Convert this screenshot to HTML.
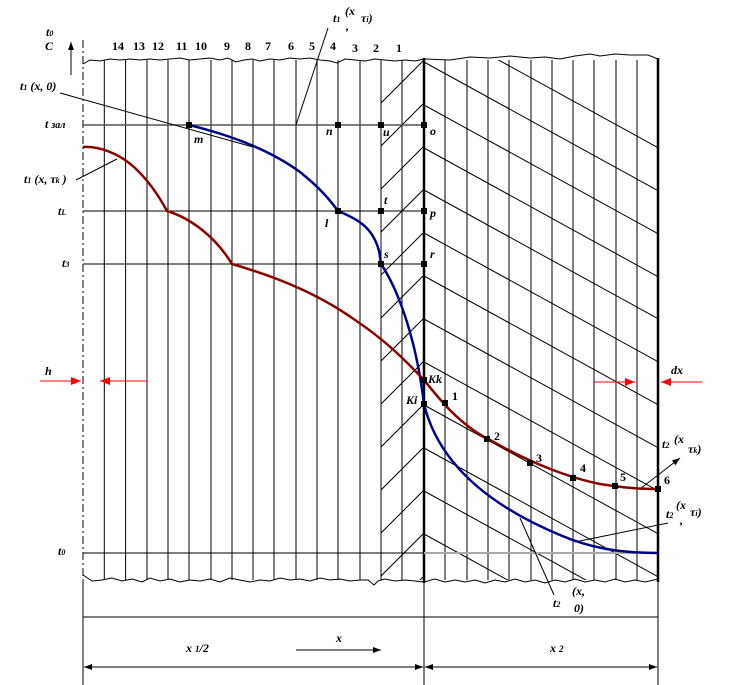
<!DOCTYPE html>
<html><head><meta charset="utf-8"><style>
body{margin:0;background:#fff}
svg{display:block}
text{font-family:"Liberation Serif",serif;font-style:italic;font-weight:bold;font-size:12px}
.n{font-style:normal}
</style></head><body>
<svg width="730" height="685" viewBox="0 0 730 685" xmlns="http://www.w3.org/2000/svg">
<defs>
<clipPath id="cl"><rect x="381" y="60" width="43" height="520"/></clipPath>
<clipPath id="cr"><rect x="424" y="60" width="234" height="520"/></clipPath>
<marker id="ar" markerWidth="8" markerHeight="6" refX="8" refY="3" orient="auto" markerUnits="userSpaceOnUse"><path d="M0,0L8,3L0,6z" fill="#000"/></marker>
<marker id="rr" markerWidth="10" markerHeight="8" refX="10" refY="4" orient="auto" markerUnits="userSpaceOnUse"><path d="M0,0L10,4L0,8z" fill="red"/></marker>
</defs>
<g stroke="#000" stroke-width="1" fill="none">
<g>
<line x1="104.3" y1="60" x2="104.3" y2="580"/><line x1="125.6" y1="60" x2="125.6" y2="580"/><line x1="147" y1="60" x2="147" y2="580"/><line x1="168" y1="60" x2="168" y2="580"/><line x1="189" y1="60" x2="189" y2="580"/><line x1="211" y1="60" x2="211" y2="580"/><line x1="232" y1="60" x2="232" y2="580"/><line x1="253" y1="60" x2="253" y2="580"/><line x1="274" y1="60" x2="274" y2="580"/><line x1="296" y1="60" x2="296" y2="580"/><line x1="317" y1="60" x2="317" y2="580"/><line x1="338" y1="60" x2="338" y2="580"/><line x1="360" y1="60" x2="360" y2="580"/><line x1="381" y1="60" x2="381" y2="580"/><line x1="402" y1="60" x2="402" y2="580"/>
<line x1="445" y1="60" x2="445" y2="580"/><line x1="467" y1="60" x2="467" y2="580"/><line x1="488" y1="60" x2="488" y2="580"/><line x1="509" y1="60" x2="509" y2="580"/><line x1="531" y1="60" x2="531" y2="580"/><line x1="552" y1="60" x2="552" y2="580"/><line x1="573" y1="60" x2="573" y2="580"/><line x1="594" y1="60" x2="594" y2="580"/><line x1="616" y1="60" x2="616" y2="580"/><line x1="637" y1="60" x2="637" y2="580"/>
</g>
<g clip-path="url(#cl)">
<path d="M381,103L424,60M381,146L424,103M381,189L424,146M381,232L424,189M381,275L424,232M381,318L424,275M381,361L424,318M381,404L424,361M381,447L424,404M381,490L424,447M381,533L424,490M381,576L424,533M381,619L424,576"/>
</g>
<g clip-path="url(#cr)">
<path d="M424,19l260,143M424,62l260,143M424,105l260,143M424,148l260,143M424,190l260,143M424,233l260,143M424,276l260,143M424,319l260,143M424,362l260,143M424,405l260,143M424,448l260,143M424,491l260,143M424,534l260,143"/>
</g>
<polyline points="83,64 90,60 100,61 110,59 120,60 130,59 140,60 150,59 160,60 170,59 180,58 190,60 200,59 210,58 220,60 228,58 236,62 244,60 252,59 260,61 270,59 280,60 290,58 300,59 310,58 320,60 330,61 337,63 345,59 355,60 365,61 375,59 385,60 395,61 405,60 415,61 424,59 450,60 470,57 490,58 510,56 530,58 545,57 560,59 575,56 590,54 600,56 615,54 630,55 648,55 658,59"/>
<polyline points="83,575 92,581 102,580 112,578 122,581 132,579 142,582 150,578 160,581 170,579 180,582 190,580 200,581 210,579 220,582 230,578 240,580 250,582 260,580 270,581 280,578 290,580 300,579 310,581 320,578 330,580 340,579 350,581 360,580 368,580 374,585 378,581 385,579 395,581 405,580 415,581 424,582 435,579 445,582 455,580 465,582 475,580 485,583 495,580 505,582 515,579 525,582 535,580 545,583 555,580 565,582 575,579 585,582 595,580 605,582 615,579 625,582 635,580 645,582 658,579"/>
<line x1="83" y1="40" x2="83" y2="580" stroke-dasharray="8,3,2,3"/>
<line x1="83" y1="580" x2="83" y2="685"/>
<line x1="71" y1="75" x2="71" y2="42" marker-end="url(#ar)"/>
<line x1="424" y1="58" x2="424" y2="583" stroke-width="2.5"/>
<line x1="658" y1="58" x2="658" y2="582" stroke-width="2.5"/>
<line x1="424" y1="583" x2="424" y2="685"/>
<line x1="658" y1="582" x2="658" y2="685"/>
<line x1="83" y1="125" x2="424" y2="125" stroke="#555" stroke-width="1.5"/>
<line x1="83" y1="211" x2="424" y2="211"/>
<line x1="83" y1="264" x2="424" y2="264"/>
<line x1="83" y1="553" x2="424" y2="553"/>
<line x1="424" y1="553" x2="658" y2="553" stroke="#aaa" stroke-width="2"/>
<line x1="83" y1="617" x2="658" y2="617"/>
<line x1="200" y1="667" x2="84" y2="667" marker-end="url(#ar)"/>
<line x1="200" y1="667" x2="423" y2="667" marker-end="url(#ar)"/>
<line x1="540" y1="667" x2="425" y2="667" marker-end="url(#ar)"/>
<line x1="540" y1="667" x2="657" y2="667" marker-end="url(#ar)"/>
<line x1="296" y1="650" x2="381" y2="650" marker-end="url(#ar)"/>
<line x1="60" y1="93" x2="253" y2="147"/>
<line x1="328" y1="28" x2="296" y2="125"/>
<line x1="76" y1="180" x2="117" y2="159"/>
<line x1="640" y1="489" x2="680" y2="458" marker-end="url(#ar)"/>
<line x1="575" y1="542" x2="668" y2="523"/>
<line x1="520" y1="518" x2="554" y2="595"/>
</g>
<path d="M189,125 C230,135 270,150 300,172 C320,188 330,200 338,211 C355,218 368,225 375,240 C380,250 380,258 381,264 C395,285 415,330 424,404 C440,470 500,510 560,535 C590,548 620,553 658,553" fill="none" stroke="#00008b" stroke-width="2.5"/>
<path d="M83,147 C100,146 120,154 135,168 C150,182 160,198 167,211 C190,218 215,236 232,264 C280,278 320,295 355,320 C385,340 405,360 424,380 C440,400 460,425 490,440 C530,463 570,478 600,484 C625,488 640,489 658,489" fill="none" stroke="#8b0000" stroke-width="2.5"/>
<g stroke="red" stroke-width="1" fill="none">
<line x1="40" y1="381" x2="81" y2="381" marker-end="url(#rr)"/>
<line x1="147" y1="381" x2="100" y2="381" marker-end="url(#rr)"/>
<line x1="594" y1="382" x2="635" y2="382" marker-end="url(#rr)"/>
<line x1="702" y1="382" x2="661" y2="382" marker-end="url(#rr)"/>
</g>
<g fill="#000">
<rect x="186" y="122" width="6" height="6"/><rect x="335" y="122" width="6" height="6"/><rect x="378" y="122" width="6" height="6"/><rect x="421" y="122" width="6" height="6"/>
<rect x="335" y="208" width="6" height="6"/><rect x="378" y="208" width="6" height="6"/><rect x="421" y="208" width="6" height="6"/>
<rect x="378" y="261" width="6" height="6"/><rect x="421" y="261" width="6" height="6"/>
<rect x="421" y="377" width="6" height="6"/><rect x="421" y="401" width="6" height="6"/>
<rect x="442" y="400" width="6" height="6"/><rect x="484" y="436" width="6" height="6"/><rect x="527" y="460" width="6" height="6"/><rect x="570" y="475" width="6" height="6"/><rect x="612" y="483" width="6" height="6"/><rect x="655" y="486" width="6" height="6"/>
</g>
<g>
<text x="112" y="50" class="n">14</text><text x="133" y="50" class="n">13</text><text x="152" y="50" class="n">12</text><text x="176" y="50" class="n">11</text><text x="195" y="50" class="n">10</text><text x="224" y="50" class="n">9</text><text x="245" y="50" class="n">8</text><text x="265" y="50" class="n">7</text><text x="288" y="50" class="n">6</text><text x="309" y="50" class="n">5</text><text x="330" y="50" class="n">4</text><text x="352" y="52" class="n">3</text><text x="373" y="52" class="n">2</text><text x="396" y="52" class="n">1</text>
</g>
<text x="46" y="36">t<tspan font-size="8">0</tspan></text>
<text x="45" y="50">C</text>
<text x="20" y="90">t<tspan font-size="8">1</tspan> (x, 0)</text>
<text x="45" y="128">t <tspan font-size="10">зал</tspan></text>
<text x="24" y="183">t<tspan font-size="8">1</tspan> (x, τ<tspan font-size="8">k</tspan> )</text>
<text x="58" y="215">t<tspan font-size="8">L</tspan></text>
<text x="62" y="267">t<tspan font-size="8">3</tspan></text>
<text x="45" y="375">h</text>
<text x="58" y="555">t<tspan font-size="8">0</tspan></text>
<text x="333" y="22">t<tspan font-size="8">1</tspan></text><text x="345" y="15">(x</text><text x="346" y="30">,</text><text x="361" y="22">τ<tspan font-size="8">i</tspan>)</text>
<text x="194" y="143">m</text>
<text x="326" y="135">n</text>
<text x="383" y="136">u</text>
<text x="430" y="135">o</text>
<text x="325" y="227">l</text>
<text x="384" y="204">t</text>
<text x="430" y="217">p</text>
<text x="384" y="258">s</text>
<text x="430" y="258">r</text>
<text x="428" y="383">Kk</text>
<text x="406" y="404">Ki</text>
<text x="452" y="400" class="n">1</text><text x="494" y="440" class="n">2</text><text x="536" y="462" class="n">3</text><text x="580" y="472" class="n">4</text><text x="620" y="481" class="n">5</text><text x="664" y="484" class="n">6</text>
<text x="671" y="374">dx</text>
<text x="662" y="448">t<tspan font-size="8">2</tspan></text><text x="674" y="443">(x</text><text x="688" y="453">τ<tspan font-size="8">k</tspan>)</text>
<text x="666" y="518">t<tspan font-size="8">2</tspan></text><text x="676" y="509">(x</text><text x="690" y="516">τ<tspan font-size="8">i</tspan>)</text><text x="680" y="524">,</text>
<text x="553" y="607">t<tspan font-size="8">2</tspan></text><text x="572" y="595">(x,</text><text x="574" y="612">0)</text>
<text x="186" y="652">x <tspan font-size="9">1</tspan>/2</text>
<text x="336" y="642">x</text>
<text x="550" y="652">x <tspan font-size="9">2</tspan></text>
</svg>
</body></html>
